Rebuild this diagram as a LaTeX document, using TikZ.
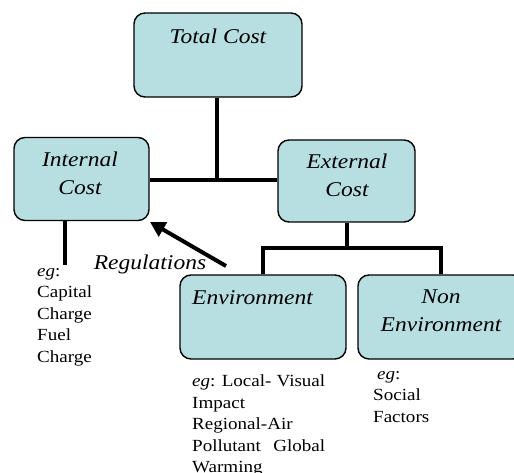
\documentclass[tikz,border=0pt]{standalone}
\usepackage{fontspec}
\setmainfont[FakeStretch=1.12]{Liberation Serif}
\usetikzlibrary{arrows.meta}
\definecolor{boxfill}{RGB}{183,223,226}
\tikzset{
  box/.style={draw=black, line width=1.4pt, fill=boxfill, rounded corners=11pt, inner sep=0pt},
  lbl/.style={font=\fontsize{21}{28}\selectfont\itshape, align=center, inner sep=0pt},
  note/.style={font=\fontsize{17}{21.5}\selectfont, align=left, inner sep=0pt, anchor=north west},
  conn/.style={line width=4.5pt},
}
\begin{document}
\begin{tikzpicture}[x=1pt,y=-1pt]
\useasboundingbox (0,0) rectangle (514,473);
\begin{scope}
\clip (0,0) rectangle (514,473);
% boxes
\node[box, minimum width=168, minimum height=84] (total) at (218,55) {};
\node[box, minimum width=135, minimum height=83] (internal) at (81.5,179) {};
\node[box, minimum width=137, minimum height=82] (external) at (346.5,181) {};
\node[box, minimum width=166, minimum height=84] (env) at (263,317) {};
\node[box, minimum width=166, minimum height=84] (nonenv) at (441,317) {};
% labels
\node[lbl] (totalt) at (218,36) {Total Cost};
\node[lbl] (internalt) at (80,173) {Internal\\Cost};
\node[lbl] (externalt) at (347,175) {External\\Cost};
\node[lbl, anchor=west] (envt) at (192,298) {Environment};
\node[lbl] (nonenvt) at (441,311) {Non\\Environment};
% connectors
\coordinate (tj) at (217,180);
\draw[conn] (total.south -| tj) -- (tj);
\draw[conn] (internal.east |- tj) -- (external.west |- tj);
\coordinate (ej) at (347,248);
\draw[conn] (external.south -| ej) -- (ej);
\draw[conn] (263,248) -- (441,248);
\draw[conn] (263,246) -- (env.north);
\draw[conn] (441,246) -- (nonenv.north);
\coordinate (ie) at (65,265);
\draw[conn] (internal.south -| ie) -- (ie);
% regulations arrow
\coordinate (regstart) at (226,266);
\draw[line width=4pt, -{Triangle[length=15pt, width=16pt]}] (regstart) -- (150,222);
\node[lbl] (reg) at (150,264) {Regulations};
% notes
\node[note] (ieg) at (37,268) {\textit{eg}:\\Capital\\Charge\\Fuel\\Charge};
\node[note] (enveg) at (192,375) {\parbox[t]{133pt}{\raggedright\textit{eg}: Local-\hfill Visual\\Impact\\Regional-Air\\Pollutant\hfill Global\\Warming}};
\node[note] (noneg) at (373,371) {\hspace*{4pt}\textit{eg}:\\Social\\Factors};
\end{scope}
\end{tikzpicture}
\end{document}
